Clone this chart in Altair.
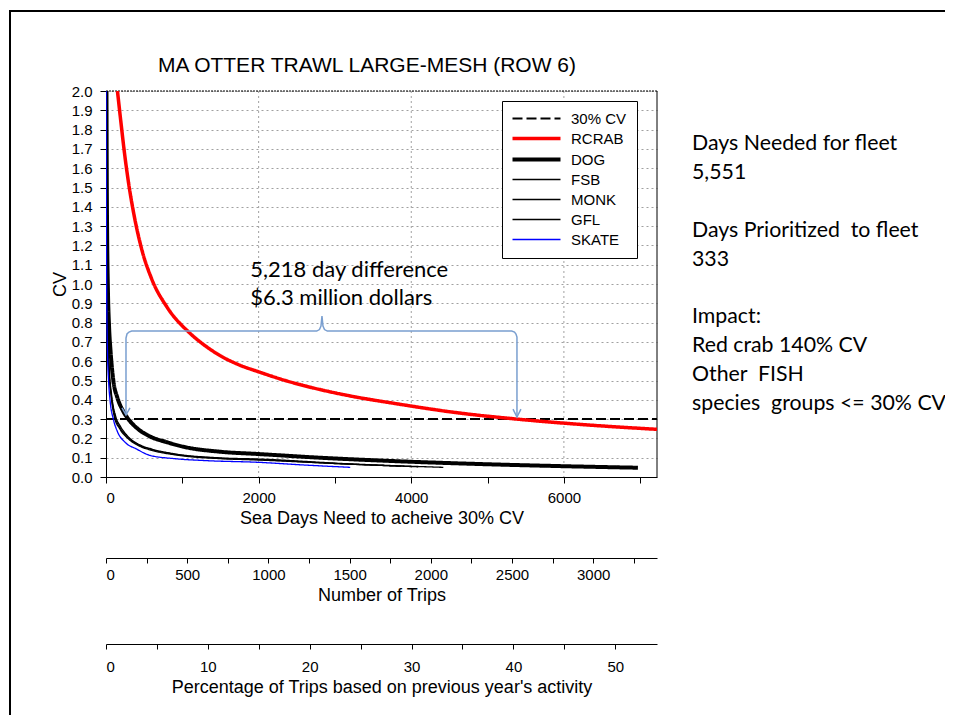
import altair as alt
import pandas as pd

# ---------------- data ----------------
series_order = ["30% CV", "RCRAB", "DOG", "FSB", "MONK", "GFL", "SKATE"]
series_colors = ["#000000", "#ff0000", "#000000", "#000000", "#000000", "#000000", "#0000ff"]
series_dashes = [[10, 4], [1, 0], [1, 0], [1, 0], [1, 0], [1, 0], [1, 0]]
series_widths = [2, 3.5, 4, 1.3, 1.3, 1.3, 1.3]

cv30_days = [0, 7220]
cv30_cv = [0.3, 0.3]

rcrab_days = [150, 192, 245, 297, 371, 468, 600, 800, 1100, 1300, 1500, 1750, 2000, 2350, 2700, 3200, 3800, 4600, 5385, 6300, 7220]
rcrab_cv = [2.0, 1.85, 1.67, 1.52, 1.35, 1.18, 1.025, 0.88, 0.745, 0.68, 0.628, 0.58, 0.545, 0.50, 0.463, 0.42, 0.38, 0.333, 0.30, 0.27, 0.247]

dog_days = [6, 10, 15, 25, 40, 60, 96, 150, 220, 293, 400, 577, 800, 1013, 1494, 2000, 2800, 3800, 5000, 6000, 6970]
dog_cv = [2.0, 1.55, 1.25, 0.97, 0.78, 0.65, 0.50, 0.41, 0.345, 0.30, 0.255, 0.21, 0.180, 0.157, 0.131, 0.119, 0.100, 0.082, 0.066, 0.056, 0.048]

fsb_days = [3, 4, 6, 10, 15, 25, 40, 70, 110, 180, 300, 450, 600, 900, 1500, 2000, 3000, 3870]
fsb_cv = [2.0, 1.7, 1.38, 1.07, 0.87, 0.68, 0.54, 0.41, 0.31, 0.25, 0.195, 0.158, 0.138, 0.115, 0.095, 0.088, 0.070, 0.056]

monk_days = [3, 4.5, 6.5, 10, 16, 26, 42, 72, 130, 185, 300, 450, 600, 900, 1500, 2000, 3200, 4420]
monk_cv = [2.0, 1.68, 1.4, 1.12, 0.9, 0.7, 0.56, 0.43, 0.31, 0.265, 0.205, 0.165, 0.145, 0.12, 0.099, 0.093, 0.068, 0.050]

gfl_days = [3, 4, 6, 10, 15, 25, 40, 70, 120, 180, 300, 450, 600, 900, 1500, 2000, 3100, 4090]
gfl_cv = [2.0, 1.72, 1.42, 1.1, 0.89, 0.7, 0.55, 0.42, 0.31, 0.258, 0.2, 0.162, 0.142, 0.118, 0.097, 0.090, 0.068, 0.053]

skate_days = [2, 3, 5, 8, 12, 20, 35, 55, 96, 150, 250, 400, 577, 900, 1300, 2000, 2600, 3200]
skate_cv = [2.0, 1.65, 1.28, 1.01, 0.83, 0.64, 0.49, 0.39, 0.30, 0.235, 0.18, 0.145, 0.112, 0.095, 0.085, 0.076, 0.062, 0.050]

x_domain = [0, 7220]
y_domain = [0, 2.0]
x_tick_values = [0, 1000, 2000, 3000, 4000, 5000, 6000, 7000]
x_grid_values = [2000, 4000, 6000]
y_tick_values = [round(i / 10, 1) for i in range(0, 21)]

trips_domain = [0, 3393]
trips_ticks = [0, 250, 500, 750, 1000, 1250, 1500, 1750, 2000, 2250, 2500, 2750, 3000, 3250]
pct_domain = [0, 54.1]
pct_ticks = [0, 5, 10, 15, 20, 25, 30, 35, 40, 45, 50]

# brace / arrows annotation (days, CV)
brace_days = [262, 262, 275, 301, 337, 2761, 2797, 2817, 2830, 2843, 2863, 2900, 5316, 5353, 5372, 5385, 5385]
brace_cv = [0.321, 0.720, 0.741, 0.751, 0.756, 0.756, 0.764, 0.782, 0.834, 0.782, 0.764, 0.756, 0.756, 0.751, 0.741, 0.725, 0.311]
arrow_days = [210, 262, 314, 5333, 5385, 5437]
arrow_cv = [0.358, 0.321, 0.358, 0.352, 0.311, 0.352]
arrow_group = ["L", "L", "L", "R", "R", "R"]

ann_text = ["5,218 day difference", "$6.3 million dollars"]
ann_days = [1890, 1890]
ann_cv = [1.072, 0.927]

NB = "\u00a0"
side_groups = [
    ["Days Needed for fleet", "5,551"],
    ["Days Prioritized " + NB + "to fleet", "333"],
    ["Impact:", "Red crab 140% CV", "Other " + NB + "FISH", "species " + NB + "groups <= 30% CV"],
]

title_text = "MA OTTER TRAWL LARGE-MESH (ROW 6)"

# ---------------- build tables ----------------
rows = []
for name, xs, ys in [("30% CV", cv30_days, cv30_cv), ("RCRAB", rcrab_days, rcrab_cv),
                     ("DOG", dog_days, dog_cv), ("FSB", fsb_days, fsb_cv),
                     ("MONK", monk_days, monk_cv), ("GFL", gfl_days, gfl_cv),
                     ("SKATE", skate_days, skate_cv)]:
    for i, (xv, yv) in enumerate(zip(xs, ys)):
        rows.append({"series": name, "days": xv, "cv": yv, "idx": i})
lines_df = pd.DataFrame(rows)

brace_df = pd.DataFrame({"days": brace_days, "cv": brace_cv, "idx": list(range(len(brace_days)))})
arrow_df = pd.DataFrame({"days": arrow_days, "cv": arrow_cv, "g": arrow_group,
                         "idx": list(range(len(arrow_days)))})
ann_df = pd.DataFrame({"days": ann_days, "cv": ann_cv, "t": ann_text})
title_df = pd.DataFrame({"t": [title_text]})

FONT = "Liberation Sans"
TXT = "Lato"
BRACE = "#7a9fd0"
LINE_H = 28.9

xscale = alt.Scale(domain=x_domain, nice=False, zero=False)
yscale = alt.Scale(domain=y_domain, nice=False, zero=False)

x_axis = alt.Axis(values=x_tick_values, format="d",
                  labelExpr="datum.value % 2000 == 0 ? datum.label : ''",
                  title="Sea Days Need to acheive 30% CV", grid=False,
                  tickSize=6, labelPadding=7, titlePadding=4)
y_axis = alt.Axis(values=y_tick_values, format=".1f", title="CV", grid=True,
                  tickSize=6, labelPadding=8, titlePadding=2)

X = alt.X("days:Q", scale=xscale, axis=x_axis)
Y = alt.Y("cv:Q", scale=yscale, axis=y_axis)

legend = alt.Legend(
    orient="none", legendX=396, legendY=10, title=None,
    symbolType="M-4.8,0H4.8", symbolSize=100,
    strokeColor="black", fillColor="white", padding=10,
    labelFont=FONT, labelFontSize=15, labelColor="black",
    labelOffset=27, symbolOffset=17, rowPadding=4,
)

lines = alt.Chart(lines_df).mark_line(clip=True, interpolate="monotone").encode(
    x=X, y=Y,
    color=alt.Color("series:N", scale=alt.Scale(domain=series_order, range=series_colors), legend=legend),
    strokeDash=alt.StrokeDash("series:N", scale=alt.Scale(domain=series_order, range=series_dashes), legend=legend),
    strokeWidth=alt.StrokeWidth("series:N", scale=alt.Scale(type="ordinal", domain=series_order, range=series_widths), legend=legend),
    order="idx:Q",
)

xgrid = alt.Chart(pd.DataFrame({"days": x_grid_values})).mark_rule(
    color="#a0a0a0", strokeDash=[2, 3], strokeWidth=1
).encode(x=X)

top_rule = alt.Chart(pd.DataFrame({"cv": [y_domain[1]]})).mark_rule(
    color="black", strokeDash=[2, 1], strokeWidth=1
).encode(y=Y)

right_rule = alt.Chart(pd.DataFrame({"days": [x_domain[1]]})).mark_rule(
    color="black", strokeWidth=1
).encode(x=X)

brace = alt.Chart(brace_df).mark_line(color=BRACE, strokeWidth=1.5).encode(
    x=X, y=Y, order="idx:Q",
)

arrows = alt.Chart(arrow_df).mark_line(color=BRACE, strokeWidth=1.5).encode(
    x=X, y=Y, detail="g:N", order="idx:Q",
)

ann = alt.Chart(ann_df).mark_text(align="left", baseline="middle", font=TXT, fontSize=22,
                                  color="black").encode(
    x=X, y=Y, text="t:N",
)

inner = alt.layer(xgrid, top_rule, right_rule, lines, brace, arrows, ann)

trips_layer = alt.Chart(pd.DataFrame({"trips": trips_domain})).mark_point(opacity=0).encode(
    x=alt.X("trips:Q", scale=alt.Scale(domain=trips_domain, nice=False, zero=False),
            axis=alt.Axis(orient="bottom", offset=81, values=trips_ticks, format="d",
                          labelExpr="datum.value % 500 == 0 ? datum.label : ''",
                          title="Number of Trips", grid=False, tickSize=5,
                          labelPadding=4, titlePadding=4))
)

pct_layer = alt.Chart(pd.DataFrame({"pct": pct_domain})).mark_point(opacity=0).encode(
    x=alt.X("pct:Q", scale=alt.Scale(domain=pct_domain, nice=False, zero=False),
            axis=alt.Axis(orient="bottom", offset=167, values=pct_ticks, format="d",
                          labelExpr="datum.value % 10 == 0 ? datum.label : ''",
                          title="Percentage of Trips based on previous year's activity",
                          grid=False, tickSize=5, labelPadding=10, titlePadding=4))
)

side_layers = []
row_start = 0
for grp in side_groups:
    side_layers.append(
        alt.Chart(pd.DataFrame({"t": ["\n".join(grp)]})).mark_text(
            align="left", baseline="top", font=TXT, fontSize=21.3,
            lineBreak="\n", lineHeight=LINE_H, color="black"
        ).encode(x=alt.value(586), y=alt.value(42 + row_start * LINE_H), text="t:N")
    )
    row_start += len(grp) + 1

title = alt.Chart(title_df).mark_text(align="center", baseline="middle", font=FONT, fontSize=21,
                                      color="black").encode(
    x=alt.value(261), y=alt.value(-25), text="t:N"
)

frame = alt.Chart(pd.DataFrame({"a": [0]})).mark_rect(filled=False, stroke="black", strokeWidth=2).encode(
    x=alt.value(-96), x2=alt.value(2000), y=alt.value(-80), y2=alt.value(2000)
)

chart = alt.layer(inner, trips_layer, pct_layer, *side_layers, title, frame).resolve_scale(
    x="independent"
).properties(
    width=551, height=386,
    autosize=alt.AutoSizeParams(type="none"),
    padding={"left": 98, "top": 83, "right": 288, "bottom": 238},
).configure_view(strokeWidth=0).configure_axis(
    domainColor="black", tickColor="black", labelColor="black", titleColor="black",
    labelFont=FONT, titleFont=FONT, labelFontSize=15, titleFontSize=18,
    titleFontWeight="normal", gridColor="#a0a0a0", gridDash=[2, 3], domainWidth=1,
)

chart.save("out.html", embed_options={"renderer": "svg", "actions": False})
